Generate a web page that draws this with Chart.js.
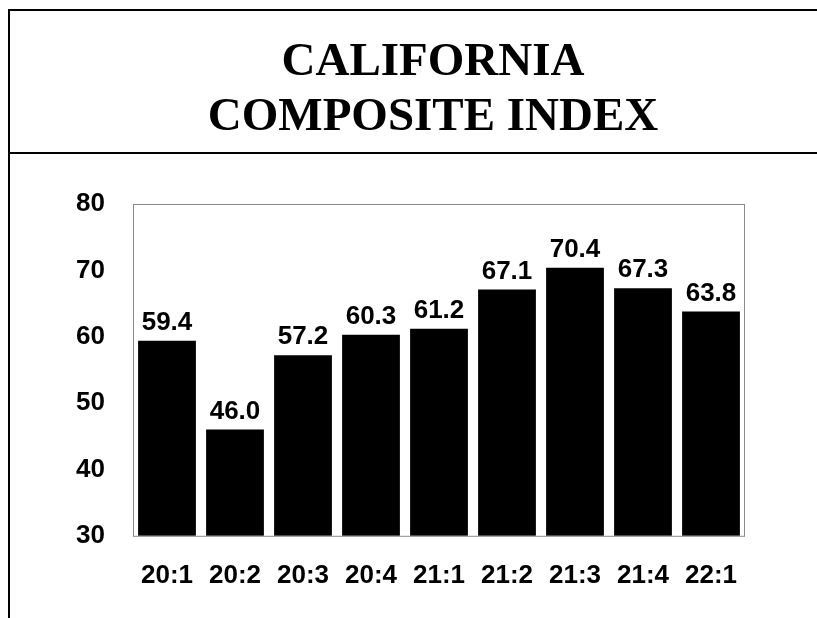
<!DOCTYPE html>
<html>
<head>
<meta charset="utf-8">
<script src="https://cdn.jsdelivr.net/npm/chart.js@4.4.0/dist/chart.umd.min.js"></script>
<style>
  html, body { margin: 0; padding: 0; background: #fff; }
  #wrap { width: 817px; height: 618px; }
</style>
</head>
<body>
<div id="wrap"><canvas id="barChart" width="817" height="618"></canvas></div>
<script>
// ====== datos ======
const quarters = ['20:1', '20:2', '20:3', '20:4', '21:1', '21:2', '21:3', '21:4', '22:1'];
const indexValues = [59.4, 46.0, 57.2, 60.3, 61.2, 67.1, 70.4, 67.3, 63.8];
const yTicks = [30, 40, 50, 60, 70, 80];
const titleLines = ['CALIFORNIA', 'COMPOSITE INDEX'];

const sansBold = "'Liberation Sans Narrow', 'Liberation Sans', Arial, sans-serif";

// marco exterior, titulo y borde del area de trazado
const framePlugin = {
  id: 'frame',
  beforeDraw(chart) {
    const ctx = chart.ctx;
    ctx.save();
    ctx.fillStyle = '#fff';
    ctx.fillRect(0, 0, chart.width, chart.height);
    ctx.strokeStyle = '#000';
    ctx.lineWidth = 2;
    ctx.beginPath();
    ctx.moveTo(9, chart.height);
    ctx.lineTo(9, 10);
    ctx.lineTo(chart.width, 10);
    ctx.moveTo(9, 153);
    ctx.lineTo(chart.width, 153);
    ctx.stroke();
    // titulo en dos lineas, centrado en la caja superior
    ctx.fillStyle = '#000';
    ctx.font = "bold 47px 'Liberation Serif', 'Times New Roman', serif";
    ctx.textAlign = 'center';
    ctx.textBaseline = 'alphabetic';
    titleLines.forEach((line, i) => {
      ctx.fillText(line, 433, 75 + i * 55);
    });
    ctx.restore();
  },
  afterDatasetsDraw(chart) {
    const a = chart.chartArea;
    const ctx = chart.ctx;
    ctx.save();
    ctx.strokeStyle = '#8a8a8a';
    ctx.lineWidth = 1;
    ctx.strokeRect(a.left + 0.5, a.top + 0.5, a.right - a.left - 1, a.bottom - a.top);
    ctx.restore();
  }
};

// etiquetas de valor encima de cada barra
const valueLabels = {
  id: 'valueLabels',
  afterDatasetsDraw(chart) {
    const ctx = chart.ctx;
    const meta = chart.getDatasetMeta(0);
    ctx.save();
    ctx.font = 'bold 26px ' + sansBold;
    ctx.fillStyle = '#000';
    ctx.textAlign = 'center';
    ctx.textBaseline = 'bottom';
    meta.data.forEach((bar, i) => {
      ctx.fillText(indexValues[i].toFixed(1), bar.x, bar.y - 5);
    });
    ctx.restore();
  }
};

const ctxBar = document.getElementById('barChart').getContext('2d');
new Chart(ctxBar, {
  type: 'bar',
  data: {
    labels: quarters,
    datasets: [{
      data: indexValues,
      backgroundColor: '#000',
      borderWidth: 0,
      barPercentage: 0.85,
      categoryPercentage: 1.0
    }]
  },
  options: {
    responsive: false,
    animation: false,
    layout: { padding: { top: 204, left: 0, right: 72, bottom: 3 } },
    plugins: {
      legend: { display: false },
      tooltip: { enabled: false },
      title: { display: false }
    },
    scales: {
      x: {
        grid: { display: false, drawTicks: false },
        border: { display: false },
        ticks: { color: '#000', padding: 24, font: { family: sansBold, size: 26, weight: 'bold' } }
      },
      y: {
        min: 30,
        max: 80,
        grid: { display: false, drawTicks: false },
        border: { display: false },
        afterFit(scale) { scale.width = 133; },
        afterBuildTicks(scale) { scale.ticks = yTicks.map(v => ({ value: v })); },
        ticks: { color: '#000', padding: 28, font: { family: sansBold, size: 26, weight: 'bold' } }
      }
    }
  },
  plugins: [framePlugin, valueLabels]
});
</script>
</body>
</html>
